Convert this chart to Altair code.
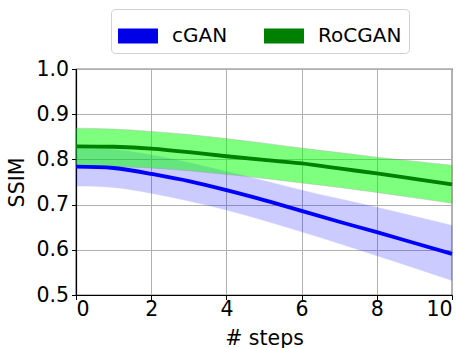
import altair as alt
import pandas as pd

steps = [0, 1, 2, 3, 4, 5, 6, 7, 8, 9, 10]
cgan_mean = [0.784, 0.781, 0.768, 0.752, 0.732, 0.710, 0.686, 0.662, 0.639, 0.615, 0.591]
cgan_low = [0.741, 0.738, 0.725, 0.708, 0.688, 0.665, 0.640, 0.614, 0.587, 0.560, 0.532]
cgan_high = [0.826, 0.822, 0.810, 0.793, 0.773, 0.753, 0.732, 0.713, 0.694, 0.674, 0.654]
rocgan_mean = [0.829, 0.828, 0.824, 0.816, 0.807, 0.799, 0.791, 0.780, 0.769, 0.757, 0.745]
rocgan_low = [0.785, 0.784, 0.781, 0.775, 0.767, 0.758, 0.748, 0.738, 0.727, 0.715, 0.703]
rocgan_high = [0.869, 0.867, 0.862, 0.855, 0.846, 0.836, 0.825, 0.815, 0.805, 0.796, 0.787]
series = ["cGAN", "RoCGAN"]
x_ticks = [0, 2, 4, 6, 8, 10]
y_ticks = [0.5, 0.6, 0.7, 0.8, 0.9, 1.0]

rows = []
for name, m, lo, hi in [("cGAN", cgan_mean, cgan_low, cgan_high),
                        ("RoCGAN", rocgan_mean, rocgan_low, rocgan_high)]:
    for s, a, b, c in zip(steps, m, lo, hi):
        rows.append({"series": name, "step": s, "mean": a, "low": b, "high": c})
df = pd.DataFrame(rows)

FONT = "DejaVu Sans"
FS = 20.5
INTERP = "natural"

x = alt.X("step:Q", scale=alt.Scale(domain=[0, 10], nice=False),
          axis=alt.Axis(values=x_ticks, title="# steps", format="d"))
y = alt.Y("mean:Q", scale=alt.Scale(domain=[0.5, 1.0], nice=False, zero=False),
          axis=alt.Axis(values=y_ticks, title="SSIM", format=".1f"))

base = alt.Chart(df)

area_c = base.transform_filter(alt.datum.series == "cGAN").mark_area(
    color="#0000ff", opacity=0.2, interpolate=INTERP,
    stroke="#0000ff", strokeWidth=0.8, strokeOpacity=0.5
).encode(x=x, y=alt.Y("low:Q"), y2="high:Q")

area_r = base.transform_filter(alt.datum.series == "RoCGAN").mark_area(
    color="#00ff00", opacity=0.5, interpolate=INTERP,
    stroke="#707070", strokeWidth=0.8, strokeOpacity=0.6
).encode(x=x, y=alt.Y("low:Q"), y2="high:Q")

line_c = base.transform_filter(alt.datum.series == "cGAN").mark_line(
    color="#0000ff", strokeWidth=3.8, interpolate=INTERP
).encode(x=x, y=y)

line_r = base.transform_filter(alt.datum.series == "RoCGAN").mark_line(
    color="#008000", strokeWidth=3.8, interpolate=INTERP
).encode(x=x, y=y)

legend_pts = base.mark_point(filled=True, opacity=0).encode(
    x=x, y=y,
    color=alt.Color("series:N",
                    scale=alt.Scale(domain=series, range=["#0000e8", "#008000"]),
                    legend=alt.Legend(
                        title=None, orient="none", direction="horizontal", columns=2,
                        legendX=35, legendY=-60,
                        symbolType="M-1,-0.375L1,-0.375L1,0.375L-1,0.375Z",
                        symbolSize=1600, symbolOpacity=1, symbolStrokeWidth=0,
                        labelFont=FONT, labelFontSize=20, labelColor="black",
                        labelOffset=14, columnPadding=36,
                        padding=7, strokeColor="#d0d0d0", cornerRadius=4,
                        fillColor="white")))

chart = alt.layer(area_c, area_r, line_c, line_r, legend_pts).properties(
    width=376, height=226,
    padding={"left": 76, "top": 69, "right": 14, "bottom": 53},
    autosize=alt.AutoSizeParams(type="none"),
).configure_view(
    stroke="black", strokeWidth=1.2
).configure_axis(
    labelFont=FONT, labelFontSize=FS, labelColor="black",
    titleFont=FONT, titleFontSize=FS, titleColor="black", titleFontWeight="normal",
    domainColor="black", domainWidth=1.2, tickColor="black", tickSize=4.5,
    gridColor="#b0b0b0", gridWidth=1,
).configure_axisX(
    labelPadding=0, titlePadding=8
).configure_axisY(
    labelPadding=3, titlePadding=8
)

chart.save("out.html", embed_options={"renderer": "svg", "actions": False})
